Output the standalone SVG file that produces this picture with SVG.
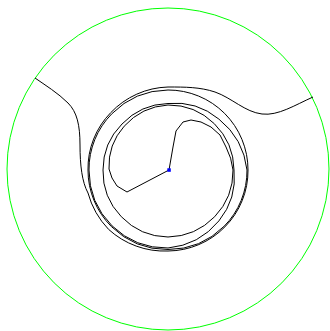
<svg xmlns="http://www.w3.org/2000/svg" width="330" height="331" viewBox="0 0 330 331">
<style>
.bound{fill:none;stroke:#00ff00;stroke-width:1}
.traj{fill:none;stroke:#000;stroke-width:1;stroke-linejoin:round}
.pt{fill:#0000ff}
</style>
<rect width="330" height="331" fill="#fff"/>
<g id="boundary"><circle class="bound" cx="168" cy="169" r="161"/></g>
<g id="connectors">
<path id="armA" class="traj" d="M169,170 L127,192 L117,186 L112,178 L109,169 A60 60 0 0 1 124.2,126.2 A64 64 0 0 1 168,105 A65 65 0 0 1 214.3,123.7 A66 66 0 0 1 234,170 A69 69 0 0 1 218.9,220.9 A75 75 0 0 1 168,248 A78.5 78.5 0 0 1 112.1,225.9 A79 79 0 0 1 89,170 A79 79 0 0 1 111.8,113.8 A80 80 0 0 1 168,90 A80 80 0 0 1 224.6,113.4 A80 80 0 0 1 248,170 A80 80 0 0 1 224.9,226.9 A81 81 0 0 1 168,251 A83 83 0 0 1 108.6,229.4 A85 85 0 0 1 88,193 C82,182 80,165 80,145 C80,125 77,112 68,103 C58,93 45,85 35,78"/>
<path id="armB" class="traj" d="M169,170 L173,147 L176,131 L183,122 L191,120 L201,122 L211,127 L220,135 L226,147 A65 65 0 0 1 233,170 A66 66 0 0 1 214.7,216.7 A67 67 0 0 1 168,237 A66 66 0 0 1 121.3,216.7 A65 65 0 0 1 103,170 A65 65 0 0 1 122,124 A66 66 0 0 1 168,103.5 A69 69 0 0 1 218.9,119.1 A76 76 0 0 1 247,170 A79 79 0 0 1 224.2,226.2 A79.5 79.5 0 0 1 168,249.5 A80 80 0 0 1 111.4,226.6 A80 80 0 0 1 88,170 A80 80 0 0 1 110.7,112.7 A82 82 0 0 1 168,87 C185,87 200,87 215,92 C232,98 245,112 262,114 C278,116 295,105 313,97"/>
</g>
<g id="center"><rect class="pt" x="167.3" y="168.3" width="3.5" height="3.5"/></g>
</svg>
